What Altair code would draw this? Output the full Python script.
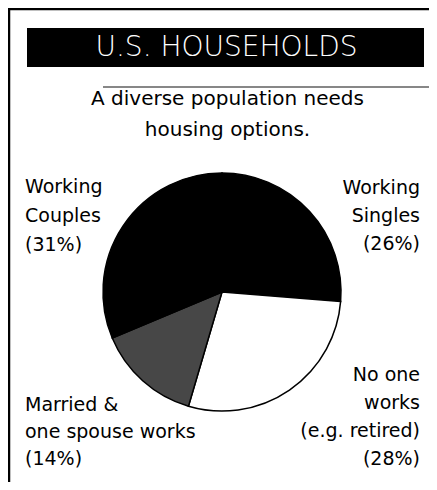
import altair as alt
import pandas as pd

# ---- data ----
categories = ["Working Singles", "No one works", "Married & one spouse works", "Working Couples"]
shares = [26, 28, 14, 31]
label_lines = [
    ["Working", "Singles"],
    ["No one", "works", "(e.g. retired)"],
    ["Married &", "one spouse works"],
    ["Working", "Couples"],
]
slice_colors = ["#000000", "#ffffff", "#474747", "#000000"]
title_text = "U.S. HOUSEHOLDS"
subtitle_lines = ["A diverse population needs", "housing options."]

# ---- layout (chart pixel space; page offset 8px) ----
W, H = 421, 474
CX, CY, R = 214, 284, 119
FONT = "DejaVu Sans"

one = pd.DataFrame({"k": [0]})

pie_df = pd.DataFrame({"category": categories, "share": shares,
                       "idx": list(range(len(categories)))})

pie = alt.Chart(pie_df).mark_arc(radius=R, stroke="black", strokeWidth=1.5).encode(
    theta=alt.Theta("share:Q", stack=True),
    order=alt.Order("idx:Q"),
    color=alt.Color("category:N",
                    scale=alt.Scale(domain=categories, range=slice_colors),
                    legend=None),
    x=alt.value(CX), y=alt.value(CY),
)


def label(i, x, y, align, lh):
    lines = label_lines[i] + [f"({shares[i]}%)"]
    df = pd.DataFrame({"t": ["\n".join(lines)]})
    return alt.Chart(df).mark_text(
        align=align, baseline="middle", lineBreak="\n", lineHeight=lh,
        fontSize=19, font=FONT, color="black"
    ).encode(x=alt.value(x), y=alt.value(y), text="t:N")


labels = [
    label(0, 412, 180, "right", 28),
    label(1, 412, 367, "right", 28),
    label(2, 17, 397, "left", 27),
    label(3, 17, 179, "left", 29),
]

title_bar = alt.Chart(one).mark_rect(color="black").encode(
    x=alt.value(19), x2=alt.value(416), y=alt.value(20), y2=alt.value(59))

title = alt.Chart(pd.DataFrame({"t": [title_text]})).mark_text(
    fontSize=28, font=FONT, fontWeight=200, color="white",
    align="center", baseline="middle"
).encode(x=alt.value(218.5), y=alt.value(40), text="t:N")

under_rule = alt.Chart(one).mark_rule(color="#111", strokeWidth=1.2).encode(
    x=alt.value(95), x2=alt.value(W), y=alt.value(79))

subtitle = alt.Chart(pd.DataFrame({"t": ["\n".join(subtitle_lines)]})).mark_text(
    fontSize=20, font=FONT, align="center", baseline="middle",
    lineBreak="\n", lineHeight=31, color="black"
).encode(x=alt.value(219.5), y=alt.value(91), text="t:N")

border_left = alt.Chart(one).mark_rule(color="black", strokeWidth=2.5).encode(
    x=alt.value(1), y=alt.value(0), y2=alt.value(H))
border_top = alt.Chart(one).mark_rule(color="black", strokeWidth=2.5).encode(
    x=alt.value(0), x2=alt.value(W), y=alt.value(1))

chart = alt.layer(
    border_left, border_top, title_bar, title, under_rule, subtitle, pie, *labels
).properties(
    width=W, height=H, autosize="none", padding=0, background="white"
).configure_view(stroke=None)

chart.save("out.html", embed_options={"renderer": "svg", "actions": False})
